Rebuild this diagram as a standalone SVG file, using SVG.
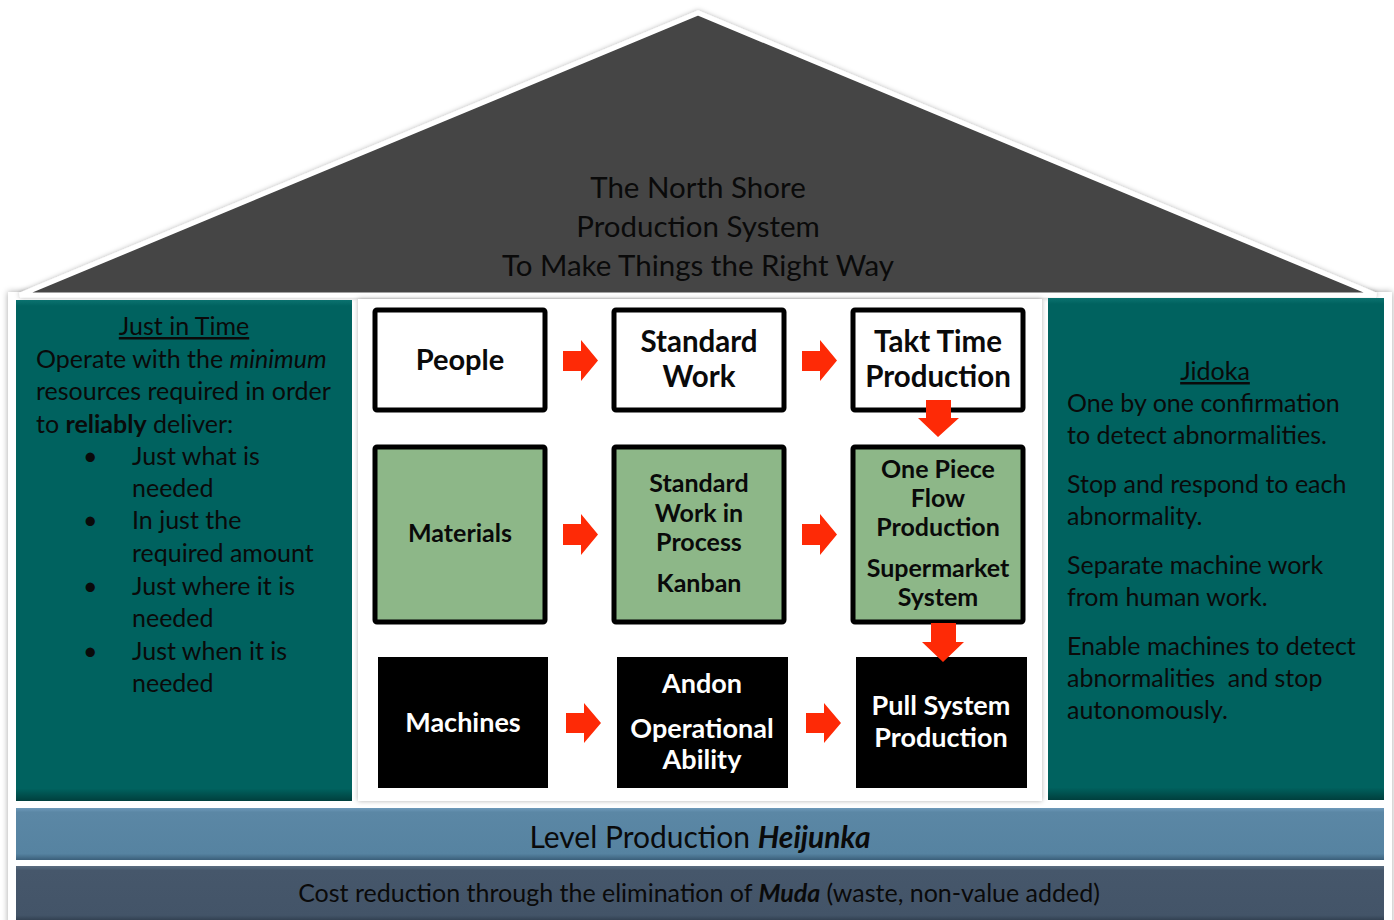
<svg xmlns="http://www.w3.org/2000/svg" width="1394" height="920" viewBox="0 0 1394 920">
<defs>
<style>
.t{font-family:Lato,"Open Sans","Liberation Sans",sans-serif;fill:#0a0a0a}
.lp{font-size:25px}
.bx{font-family:Lato,"Open Sans","Liberation Sans",sans-serif;font-weight:bold;fill:#0a0a0a;text-anchor:middle}
.wb{font-family:Lato,"Open Sans","Liberation Sans",sans-serif;font-weight:bold;fill:#ffffff;text-anchor:middle}
.white{fill:#ffffff;stroke:#000;stroke-width:5}
.green{fill:#8db788;stroke:#000;stroke-width:5}
.black{fill:#000}
.arr{fill:#fe2a06}
</style>
<filter id="sh" x="-5%" y="-5%" width="110%" height="110%">
<feDropShadow dx="0" dy="0" stdDeviation="3" flood-color="#000" flood-opacity="0.35"/>
</filter>
<filter id="sh2" x="-5%" y="-5%" width="110%" height="110%">
<feDropShadow dx="0" dy="0" stdDeviation="2.5" flood-color="#000" flood-opacity="0.3"/>
</filter>
<linearGradient id="teal" x1="0" y1="0" x2="0" y2="1">
<stop offset="0" stop-color="#0b726f"/>
<stop offset="0.012" stop-color="#00625f"/>
<stop offset="0.975" stop-color="#00625f"/>
<stop offset="1" stop-color="#003f3d"/>
</linearGradient>
<linearGradient id="lvl" x1="0" y1="0" x2="0" y2="1">
<stop offset="0" stop-color="#6e9aba"/>
<stop offset="0.08" stop-color="#5b87a5"/>
<stop offset="0.88" stop-color="#5683a1"/>
<stop offset="1" stop-color="#3b5f7a"/>
</linearGradient>
<linearGradient id="cost" x1="0" y1="0" x2="0" y2="1">
<stop offset="0" stop-color="#5a6c80"/>
<stop offset="0.08" stop-color="#46576b"/>
<stop offset="0.88" stop-color="#435468"/>
<stop offset="1" stop-color="#2c3a4a"/>
</linearGradient>
</defs>

<rect width="1394" height="920" fill="#ffffff"/>

<g id="house">
<rect x="8" y="292" width="1384" height="640" fill="#ffffff" filter="url(#sh)"/>
</g>

<g id="roof">
<polygon points="698,13 20,295 1376,295" fill="#444444" stroke="#ffffff" stroke-width="5" stroke-linejoin="miter" filter="url(#sh2)"/>
<text class="t" font-size="29.5" text-anchor="middle"><tspan x="698" y="198">The North Shore</tspan><tspan x="698" y="237">Production System</tspan><tspan x="698" y="276">To Make Things the Right Way</tspan></text>
</g>

<g id="just-in-time">
<rect x="16" y="300" width="336" height="501" fill="url(#teal)"/>
<text class="t lp" x="184" y="335" text-anchor="middle" text-decoration="underline">Just in Time</text>
<text class="t lp" x="36" y="368">Operate with the <tspan font-style="italic">minimum</tspan></text>
<text class="t lp" x="36" y="400">resources required in order</text>
<text class="t lp" x="36" y="433">to <tspan font-weight="bold">reliably</tspan> deliver:</text>
<g class="t lp">
<text x="83" y="465">•</text><text x="132" y="465">Just what is</text>
<text x="132" y="497">needed</text>
<text x="83" y="529">•</text><text x="132" y="529">In just the</text>
<text x="132" y="562">required amount</text>
<text x="83" y="595">•</text><text x="132" y="595">Just where it is</text>
<text x="132" y="627">needed</text>
<text x="83" y="660">•</text><text x="132" y="660">Just when it is</text>
<text x="132" y="692">needed</text>
</g>
</g>

<g id="center-panel">
<rect x="358" y="299" width="684" height="502" fill="#ffffff" filter="url(#sh2)"/>
</g>

<g id="jidoka">
<rect x="1048" y="298" width="336" height="502" fill="url(#teal)"/>
<text class="t lp" x="1215" y="380" text-anchor="middle" text-decoration="underline">Jidoka</text>
<g class="t lp">
<text x="1067" y="412">One by one confirmation</text>
<text x="1067" y="444">to detect abnormalities.</text>
<text x="1067" y="493">Stop and respond to each</text>
<text x="1067" y="525">abnormality.</text>
<text x="1067" y="574">Separate machine work</text>
<text x="1067" y="606">from human work.</text>
<text x="1067" y="655">Enable machines to detect</text>
<text x="1067" y="687" style="white-space:pre">abnormalities  and stop</text>
<text x="1067" y="719">autonomously.</text>
</g>
</g>

<g id="people">
<rect class="white" x="375" y="310" width="170" height="100" rx="2"/>
<text class="bx" x="460" y="370" font-size="29">People</text>
</g>
<g id="standard-work">
<rect class="white" x="614" y="310" width="170" height="100" rx="2"/>
<text class="bx" font-size="29.5"><tspan x="699" y="352">Standard</tspan><tspan x="699" y="387">Work</tspan></text>
</g>
<g id="takt-time">
<rect class="white" x="853" y="310" width="170" height="100" rx="2"/>
<text class="bx" font-size="29.5"><tspan x="938" y="352">Takt Time</tspan><tspan x="938" y="387">Production</tspan></text>
</g>

<g id="materials">
<rect class="green" x="375" y="447" width="170" height="175" rx="2"/>
<text class="bx" x="460" y="542" font-size="25">Materials</text>
</g>
<g id="standard-wip">
<rect class="green" x="614" y="447" width="170" height="175" rx="2"/>
<text class="bx" font-size="25"><tspan x="699" y="492">Standard</tspan><tspan x="699" y="522">Work in</tspan><tspan x="699" y="551">Process</tspan><tspan x="699" y="592">Kanban</tspan></text>
</g>
<g id="one-piece-flow">
<rect class="green" x="853" y="447" width="170" height="175" rx="2"/>
<text class="bx" font-size="25"><tspan x="938" y="478">One Piece</tspan><tspan x="938" y="507">Flow</tspan><tspan x="938" y="536">Production</tspan><tspan x="938" y="577">Supermarket</tspan><tspan x="938" y="606">System</tspan></text>
</g>

<g id="machines">
<rect class="black" x="378" y="657" width="170" height="131"/>
<text class="wb" x="463" y="732" font-size="27">Machines</text>
</g>
<g id="andon">
<rect class="black" x="617" y="657" width="171" height="131"/>
<text class="wb" font-size="27"><tspan x="702" y="693">Andon</tspan><tspan x="702" y="738">Operational</tspan><tspan x="702" y="769">Ability</tspan></text>
</g>
<g id="pull-system">
<rect class="black" x="856" y="657" width="171" height="131"/>
<text class="wb" font-size="27"><tspan x="941" y="715">Pull System</tspan><tspan x="941" y="747">Production</tspan></text>
</g>

<g id="connectors">
<polygon class="arr" points="563,351 581,351 581,340 598,360.5 581,381 581,371 563,371"/>
<polygon class="arr" points="802,351 820,351 820,340 837,360.5 820,381 820,371 802,371"/>
<polygon class="arr" points="563,524 581,524 581,514 598,534.5 581,555 581,545 563,545"/>
<polygon class="arr" points="802,524 820,524 820,514 837,534.5 820,555 820,545 802,545"/>
<polygon class="arr" points="566,713 584,713 584,703 601,723 584,743 584,733 566,733"/>
<polygon class="arr" points="806,713 824,713 824,703 841,723 824,743 824,733 806,733"/>
<polygon class="arr" points="926,400 951,400 951,418 959,418 938,437 918,418 926,418"/>
<polygon class="arr" points="931,623 956,623 956,642 964,642 943,662 922,642 931,642"/>
</g>

<g id="level-production">
<rect x="16" y="808" width="1368" height="52" fill="url(#lvl)"/>
<text class="t" x="700" y="848" font-size="30" text-anchor="middle">Level Production <tspan font-weight="bold" font-style="italic">Heijunka</tspan></text>
</g>
<g id="cost-reduction">
<rect x="16" y="866" width="1368" height="56" fill="url(#cost)"/>
<text class="t" x="699" y="902" font-size="25" text-anchor="middle">Cost reduction through the elimination of <tspan font-weight="bold" font-style="italic">Muda</tspan> (waste, non-value added)</text>
</g>
</svg>
